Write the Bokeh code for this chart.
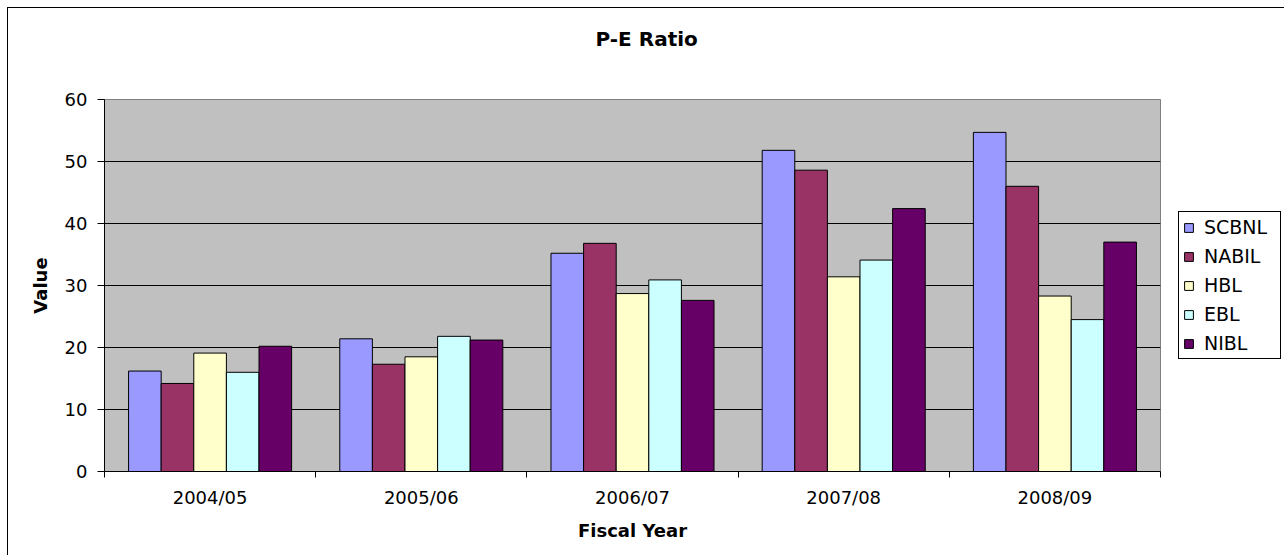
from bokeh.plotting import figure
from bokeh.models import Range1d, FixedTicker, Legend, Title
from bokeh.embed import file_html
from bokeh.resources import INLINE

# P-E ratio per bank and fiscal year
years = ["2004/05", "2005/06", "2006/07", "2007/08", "2008/09"]
banks = ["SCBNL", "NABIL", "HBL", "EBL", "NIBL"]
scbnl = [16.2, 21.4, 35.2, 51.8, 54.7]
nabil = [14.2, 17.3, 36.8, 48.6, 46.0]
hbl = [19.1, 18.5, 28.7, 31.4, 28.3]
ebl = [16.0, 21.8, 30.9, 34.1, 24.5]
nibl = [20.2, 21.2, 27.6, 42.4, 37.0]
y_ticks = [0, 10, 20, 30, 40, 50, 60]

series = [scbnl, nabil, hbl, ebl, nibl]
colors = ["#9999FF", "#993366", "#FFFFCC", "#CCFFFF", "#660066"]

FONT = "DejaVu Sans"
bar_w = 0.1544

p = figure(frame_width=1056, frame_height=372,
           min_border_left=96, min_border_right=122,
           min_border_top=91, min_border_bottom=84,
           x_range=Range1d(0, len(years)), y_range=Range1d(0, 60),
           output_backend="svg", toolbar_location=None, title=None)
# chart border (only top and left are inside the picture)
p.styles = {"border-top": "1px solid black", "border-left": "1px solid black",
            "margin-left": "7px", "margin-top": "7px"}

p.background_fill_color = "#C0C0C0"
p.border_fill_color = "white"
p.outline_line_color = "#808080"
p.outline_line_width = 1

# spacer between plot area and title, then the title itself
p.add_layout(Title(text=" ", text_font_size="1px", standoff=41), "above")
p.add_layout(Title(text="P-E Ratio", align="left", offset=491,
                   text_font=FONT, text_font_size="20px",
                   text_font_style="bold", text_color="black",
                   standoff=10), "above")

# bars, grouped around the middle of each year
renderers = []
for i, (name, vals, col) in enumerate(zip(banks, series, colors)):
    xs = [k + 0.5 + (i - 2) * bar_w for k in range(len(years))]
    r = p.vbar(x=xs, top=vals, width=bar_w, bottom=0,
               fill_color=col, line_color="black", line_width=1)
    renderers.append((name, [r]))

# y axis
p.yaxis.ticker = FixedTicker(ticks=y_ticks)
p.yaxis.axis_label = "Value"
p.yaxis.axis_label_text_font = FONT
p.yaxis.axis_label_text_font_size = "18px"
p.yaxis.axis_label_text_font_style = "bold"
p.yaxis.axis_label_text_color = "black"
p.yaxis.axis_label_standoff = 11
p.yaxis.major_label_text_font = FONT
p.yaxis.major_label_text_font_size = "18px"
p.yaxis.major_label_text_color = "black"
p.yaxis.major_label_standoff = 10
p.yaxis.major_tick_out = 7
p.yaxis.major_tick_in = 0
p.yaxis.minor_tick_line_color = None
p.yaxis.axis_line_color = "black"
p.yaxis.major_tick_line_color = "black"

# x axis: labels in the middle, ticks between groups
p.xaxis.ticker = FixedTicker(ticks=[k + 0.5 for k in range(len(years))],
                             minor_ticks=list(range(len(years) + 1)))
p.xaxis.major_label_overrides = {k + 0.5: y for k, y in enumerate(years)}
p.xaxis.axis_label = "Fiscal Year"
p.xaxis.axis_label_text_font = FONT
p.xaxis.axis_label_text_font_size = "18px"
p.xaxis.axis_label_text_font_style = "bold"
p.xaxis.axis_label_text_color = "black"
p.xaxis.axis_label_standoff = 9
p.xaxis.major_label_text_font = FONT
p.xaxis.major_label_text_font_size = "18px"
p.xaxis.major_label_text_color = "black"
p.xaxis.major_label_standoff = 9
p.xaxis.major_tick_line_color = None
p.xaxis.major_tick_out = 0
p.xaxis.minor_tick_out = 6
p.xaxis.minor_tick_in = 0
p.xaxis.minor_tick_line_color = "black"
p.xaxis.axis_line_color = "black"

p.xgrid.grid_line_color = None
p.ygrid.ticker = FixedTicker(ticks=y_ticks)
p.ygrid.grid_line_color = "black"
p.ygrid.grid_line_width = 1

legend = Legend(items=renderers, location=(18, 112))
legend.border_line_color = "black"
legend.border_line_alpha = 1
legend.background_fill_color = "white"
legend.background_fill_alpha = 1
legend.label_text_font = FONT
legend.label_text_font_size = "19px"
legend.label_text_color = "black"
legend.glyph_width = 11
legend.glyph_height = 11
legend.label_standoff = 10
legend.label_height = 21
legend.label_width = 72
legend.spacing = 7
legend.padding = 4
legend.margin = 0
p.add_layout(legend, "right")

open("out.html", "w").write(file_html(p, INLINE))
